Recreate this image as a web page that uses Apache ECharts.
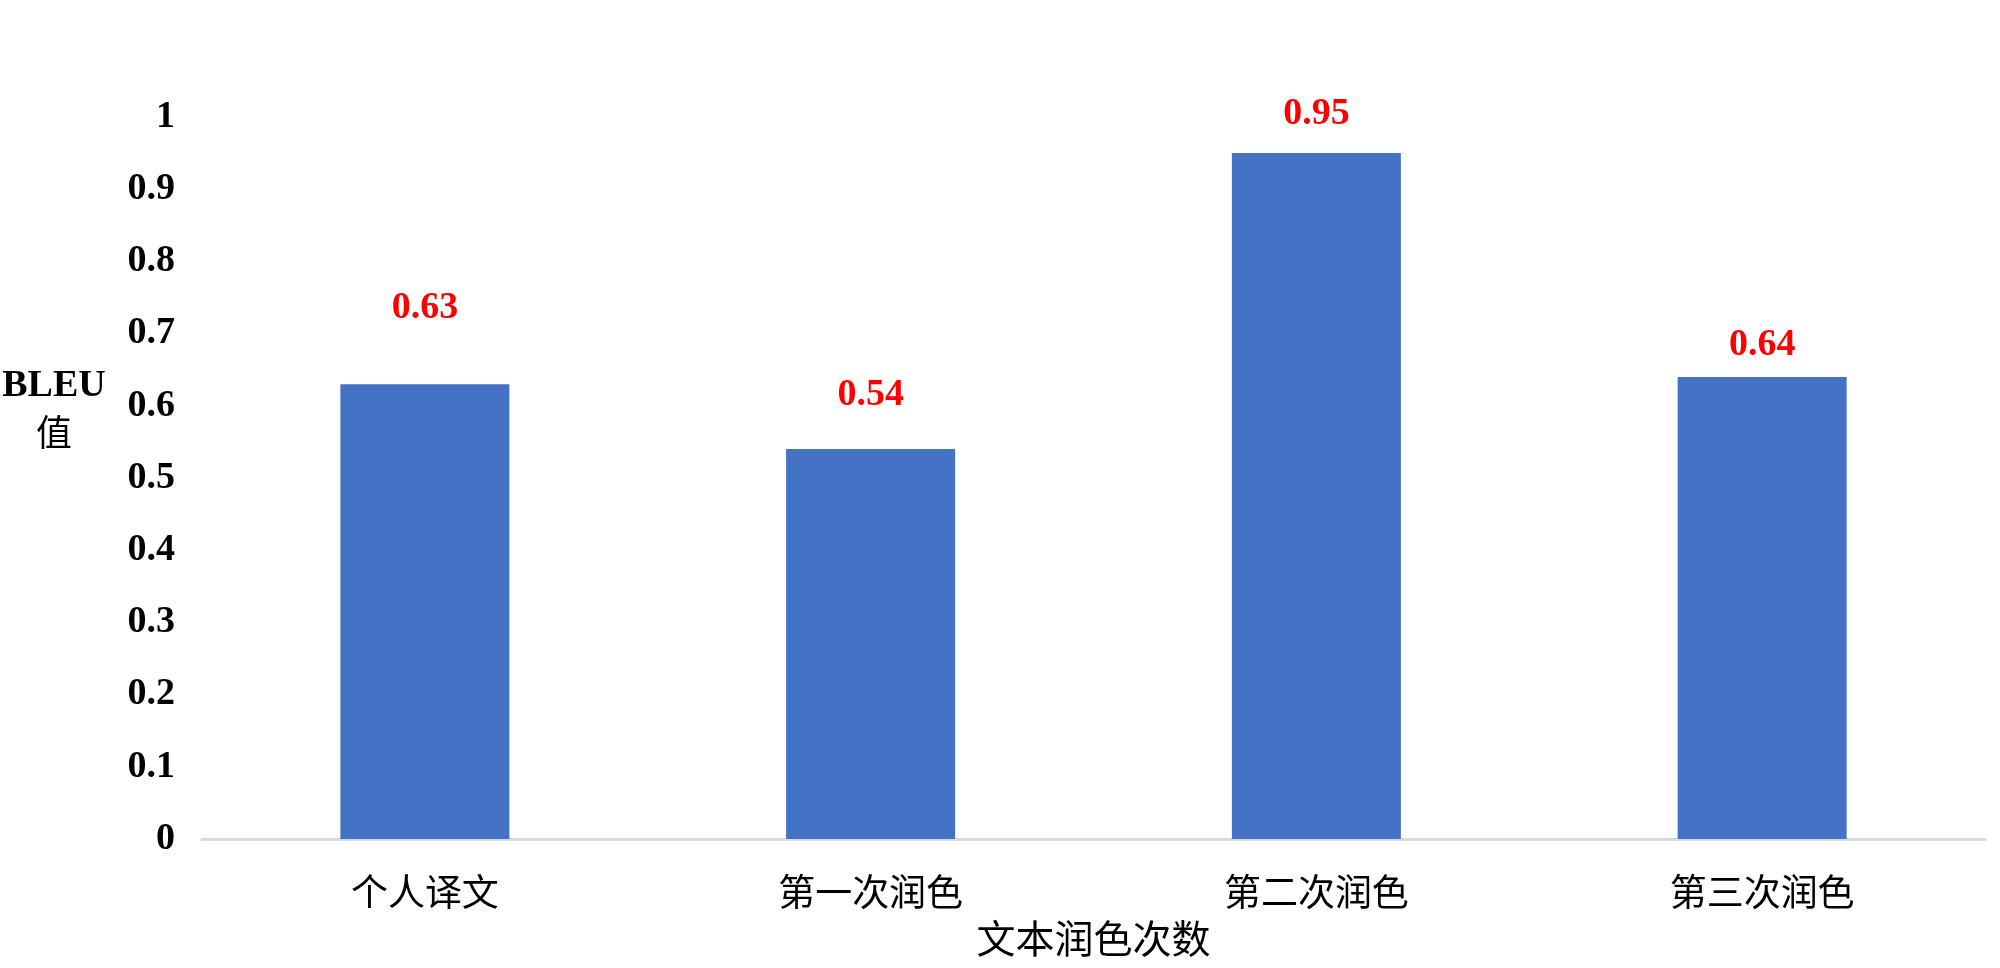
<!DOCTYPE html>
<html>
<head>
<meta charset="utf-8">
<script src="https://cdn.jsdelivr.net/npm/echarts@6/dist/echarts.min.js"></script>
<style>html,body{margin:0;padding:0;background:#fff;}#c{width:2000px;height:968px;}</style>
</head>
<body>
<div id="c"></div>
<script>
const categories = ['个人译文', '第一次润色', '第二次润色', '第三次润色'];
const bleuValues = [0.63, 0.54, 0.95, 0.64];
const yTicks = [0, 0.1, 0.2, 0.3, 0.4, 0.5, 0.6, 0.7, 0.8, 0.9, 1];
const xAxisTitle = '文本润色次数';
const yAxisTitleLines = ['BLEU', '值'];

// label gaps above each bar (layout only)
const labelGaps = [57, 35, 20, 13];

const serif = '"Liberation Serif", "Times New Roman", serif';
const cjk = '"Noto Sans CJK SC", "Liberation Serif", serif';

const chart = echarts.init(document.getElementById('c'));
chart.setOption({
  animation: false,
  backgroundColor: '#ffffff',
  grid: { left: 202, right: 15, top: 117, bottom: 129, containLabel: false },
  xAxis: {
    type: 'category',
    data: categories,
    axisLine: { lineStyle: { color: '#d9d9d9', width: 3 } },
    axisTick: { show: false },
    axisLabel: { fontFamily: cjk, fontSize: 37, color: '#000', margin: 34 },
    name: xAxisTitle,
    nameLocation: 'middle',
    nameGap: 80,
    nameTextStyle: { fontFamily: cjk, fontSize: 39, color: '#000' }
  },
  yAxis: {
    type: 'value',
    min: yTicks[0],
    max: yTicks[yTicks.length - 1],
    interval: yTicks[1] - yTicks[0],
    splitLine: { show: false },
    axisLine: { show: false },
    axisTick: { show: false },
    axisLabel: {
      fontFamily: serif, fontWeight: 'bold', fontSize: 38, color: '#000', margin: 27,
      formatter: v => String(Math.round(v * 10) / 10)
    }
  },
  graphic: [{
    type: 'text',
    left: 0,
    top: 367,
    style: {
      text: '{b|' + yAxisTitleLines[0] + '}\n{c|' + yAxisTitleLines[1] + '}',
      align: 'center',
      rich: {
        b: { fontFamily: serif, fontWeight: 'bold', fontSize: 38, color: '#000', align: 'center', width: 108, lineHeight: 46 },
        c: { fontFamily: cjk, fontSize: 36, color: '#000', align: 'center', width: 108, lineHeight: 46 }
      }
    }
  }],
  series: [{
    type: 'bar',
    barWidth: 169,
    itemStyle: { color: '#4472C4' },
    data: bleuValues.map((v, i) => ({
      value: v,
      label: { distance: labelGaps[i] }
    })),
    label: {
      show: true,
      position: 'top',
      fontFamily: serif,
      fontWeight: 'bold',
      fontSize: 38,
      color: '#ff0000',
      formatter: p => p.value.toFixed(2)
    }
  }]
});
</script>
</body>
</html>
